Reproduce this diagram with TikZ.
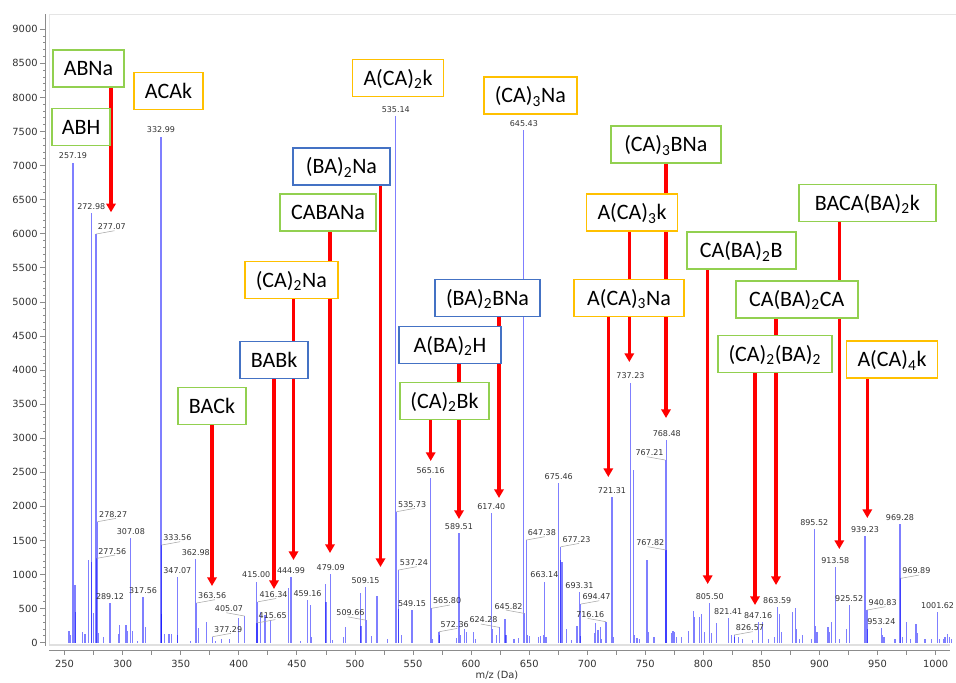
\documentclass[tikz,border=0pt]{standalone}
\usepackage{fontspec}
\newfontfamily\boxfont{Carlito}
\newfontfamily\numfont{DejaVu Sans}
\usetikzlibrary{arrows.meta, backgrounds}

\definecolor{boxgreen}{RGB}{146,208,80}
\definecolor{boxorange}{RGB}{255,192,0}
\definecolor{boxblue}{RGB}{68,114,196}
\definecolor{peakblue}{RGB}{0,0,255}
\definecolor{axisgray}{RGB}{140,140,140}

% pixel position of an m/z value and of a count
\newcommand{\xpx}[1]{64.6+(#1-250)*1.1614}
\newcommand{\ypx}[1]{642.7-#1*0.06816}

% peaks: plain, label on top, label right, label left
\newcounter{pk}
\newcommand{\pk}[2]{\draw[peak] (#1,0) -- (#1,#2);}
\newcommand{\pkc}[2]{\stepcounter{pk}\draw[peak] (#1,0) -- (#1,#2);
  \node[pklab, anchor=south] (pk\thepk) at ([yshift=2pt]#1,#2) {#1};}
\newcommand{\pkr}[2]{\stepcounter{pk}\draw[peak] (#1,0) -- (#1,#2);
  \node[pklab, anchor=south west] (pk\thepk) at ([shift={(0.6pt,2.5pt)}]#1,#2) {#1};
  \draw[leader] (#1,#2) -- ([xshift=2pt]pk\thepk.south);}
\newcommand{\pkl}[2]{\stepcounter{pk}\draw[peak] (#1,0) -- (#1,#2);
  \node[pklab, anchor=south east] (pk\thepk) at ([shift={(-0.6pt,2.5pt)}]#1,#2) {#1};
  \draw[leader] (#1,#2) -- ([xshift=-2pt]pk\thepk.south);}

\begin{document}
\begin{tikzpicture}[
    x=0.75pt, y=-0.75pt,
    box/.style={rectangle, draw, fill=white, line width=1.4pt, minimum width=#1*0.75pt, minimum height=27.75pt, inner sep=0pt, text height=10.6pt, text depth=0pt, font=\boxfont\fontsize{16.5}{18}\selectfont},
    gbox/.style={box=#1, draw=boxgreen},
    obox/.style={box=#1, draw=boxorange},
    bbox/.style={box=#1, draw=boxblue},
    peak/.style={draw=peakblue, draw opacity=0.5, line width=0.9pt},
    pklab/.style={inner sep=0.5pt, text=black!80, font=\numfont\fontsize{6}{7}\selectfont},
    leader/.style={draw=black!35, line width=0.4pt},
    axlab/.style={inner sep=0.5pt, text=black!80, font=\numfont\fontsize{7.4}{8}\selectfont},
    axisline/.style={draw=axisgray, line width=0.6pt},
    redarrow/.style={-{Triangle[width=7pt, length=6.5pt]}, line width=2.3pt, red}
]
\useasboundingbox (0,0) rectangle (956,682);
\begin{pgfonlayer}{background}
  \fill[white] (0,0) rectangle (956,682);
\end{pgfonlayer}

% =====================
% Frame and axes
% =====================
\draw[black!10, line width=0.6pt] (49,645) -- (49,14) -- (956,14);
\draw[black!12, line width=0.8pt] (49,645) -- (950,645);
\draw[axisline] (45,14) -- (45,646);
\draw[axisline] (49,650) -- (950,650);
\foreach \c in {100,200,...,9000}
  \draw[axisline] (43,{\ypx{\c}}) -- (45,{\ypx{\c}});
\foreach \c in {0,500,...,9000} {
  \draw[axisline] (40,{\ypx{\c}}) -- (45,{\ypx{\c}});
  \node[axlab, anchor=east] (y\c) at (38.5,{\ypx{\c}}) {\c};
}
\foreach \m in {250,275,...,1000}
  \draw[axisline] ({\xpx{\m}},650) -- ({\xpx{\m}},655);
\foreach \m in {250,300,...,1000}
  \node[axlab] (x\m) at ({\xpx{\m}},663.5) {\m};
\node[axlab] (xtitle) at (497,675.5) {m/z (Da)};

% =====================
% Spectrum (m/z, counts)
% =====================
\begin{scope}[shift={(-225.75,642.7)}, x=0.87105pt, y=0.05112pt]
\foreach \m/\h in {253.8/171, 255.2/112, 258.9/846, 259.1/455, 265.3/161, 267.6/127,
    270.7/1213, 273.4/1190, 275.0/430, 279.2/137, 283.3/78, 296.3/127, 297.5/254,
    302.9/264, 304.4/171, 308.2/176, 312.8/30, 319.4/235, 333.2/420, 336.2/122,
    339.9/127, 342/127, 347.4/120, 358.5/25, 365.3/210, 372/298, 380/20, 385.2/59,
    391.8/59, 399.6/362, 418.5/455, 422.5/406, 427.6/333, 443/797, 453.4/30,
    461.7/560, 462.5/80, 474.8/860, 475/600, 480.5/40, 490/90, 492/235, 505/724,
    505.2/240, 514/100, 519/685, 528/50, 537.5/500, 540/115, 566.5/60, 572.8/120,
    587.3/70, 591/110, 594.5/200, 596/160, 602/150, 603.5/60, 618.3/204, 622/110,
    629.2/352, 630/110, 637/60, 641/70, 648.5/110, 650/100, 658/90, 660/100,
    662/110, 664.5/90, 676.9/1213, 678.2/1180, 682.3/200, 686.5/40, 691.2/249,
    694/100, 706/140, 707.3/284, 709.3/180, 711.6/235, 712.5/60, 722.3/80,
    739.7/2534, 740.8/110, 742.8/70, 745/50, 751.5/1213, 752.6/160, 757.4/90,
    772.3/140, 773.8/176, 775.3/150, 776.7/90, 781/80, 787/176, 791.3/465,
    792.7/381, 797/381, 798.5/416, 801.3/160, 807/140, 811.5/284, 824/110,
    827/90, 830/80, 834/60, 842/40, 851.1/308, 855.9/60, 861.1/80, 865.4/420,
    867.4/160, 876.9/445, 879.5/513, 880.4/200, 882.7/50, 885.6/110, 893/50,
    896.4/240, 897.8/150, 907.3/235, 908.5/160, 910.5/308, 917.1/50, 923.3/196,
    941.6/200, 954.4/110, 955.6/80, 965/50, 971.4/90, 975.1/298, 978/60,
    983.1/269, 984.3/140, 990.8/50, 996.5/50, 1003.2/50, 1006.7/60, 1008.1/90,
    1010.1/130, 1011.8/90, 1013.5/50}
  {\pk{\m}{\h}}

\pkc{257.19}{7043}
\pkc{272.98}{6300}
\pkr{277.07}{5996}
\pkr{278.27}{1775}
\pkr{277.56}{1237}
\pkc{289.12}{577}
\pkc{307.08}{1530}
\pkc{317.56}{665}
\pkc{332.99}{7424}
\pkr{333.56}{1433}
\pkc{347.07}{968}
\pkc{362.98}{1222}
\pkr{363.56}{582}
\pkr{377.29}{88}
\pkl{405.07}{391}
\pkc{415.00}{895}
\pkr{416.34}{600}
\pkr{415.65}{290}
\pkc{444.99}{958}
\pkc{459.16}{620}
\pkc{479.09}{1002}
\pkc{509.15}{821}
\pkl{509.66}{330}
\pkc{535.14}{7727}
\pkr{535.73}{1922}
\pkr{537.24}{1066}
\pkc{549.15}{479}
\pkc{565.16}{2421}
\pkr{565.80}{504}
\pkr{572.36}{161}
\pkc{589.51}{1604}
\pkc{617.40}{1897}
\pkl{624.28}{225}
\pkc{645.43}{7522}
\pkl{645.82}{430}
\pkr{647.38}{1506}
\pkc{663.14}{895}
\pkc{675.46}{2347}
\pkr{677.23}{1408}
\pkc{693.31}{738}
\pkr{694.47}{567}
\pkl{716.16}{308}
\pkc{721.31}{2142}
\pkc{737.23}{3815}
\pkl{767.21}{2680}
\pkc{768.48}{2974}
\pkl{767.82}{1360}
\pkc{805.50}{577}
\pkc{821.41}{357}
\pkr{826.57}{113}
\pkc{847.16}{308}
\pkc{863.59}{528}
\pkc{895.52}{1663}
\pkc{913.58}{1105}
\pkc{925.52}{553}
\pkc{939.23}{1565}
\pkr{940.83}{479}
\pkc{953.24}{210}
\pkc{969.28}{1741}
\pkr{969.89}{944}
\pkc{1001.62}{450}
\end{scope}

% =====================
% Assignments
% =====================
\node[gbox=71] (abna) at (88.5,68.5) {ABNa};
\node[gbox=58] (abh) at (81,127) {ABH};
\node[obox=69] (acak) at (168.5,91) {ACAk};
\node[obox=91] (aca2k) at (398,78) {A(CA)\textsubscript{2}k};
\node[obox=93] (ca3na) at (530.3,95.5) {(CA)\textsubscript{3}Na};
\node[bbox=97] (ba2na) at (341.5,166.5) {(BA)\textsubscript{2}Na};
\node[gbox=96] (cabana) at (328,212.5) {CABANa};
\node[obox=93] (ca2na) at (291.3,280) {(CA)\textsubscript{2}Na};
\node[bbox=68] (babk) at (274,360) {BABk};
\node[gbox=68] (back) at (212,406) {BACk};
\node[bbox=105] (ba2bna) at (487.5,298) {(BA)\textsubscript{2}BNa};
\node[bbox=102] (aba2h) at (450,345) {A(BA)\textsubscript{2}H};
\node[gbox=89] (ca2bk) at (444.5,401) {(CA)\textsubscript{2}Bk};
\node[gbox=110] (ca3bna) at (665.8,144.5) {(CA)\textsubscript{3}BNa};
\node[obox=91] (aca3k) at (632,212.5) {A(CA)\textsubscript{3}k};
\node[obox=110] (aca3na) at (629,298) {A(CA)\textsubscript{3}Na};
\node[gbox=109] (caba2b) at (741.2,250.5) {CA(BA)\textsubscript{2}B};
\node[gbox=137] (bacaba2k) at (867.3,203) {BACA(BA)\textsubscript{2}k};
\node[gbox=122] (caba2ca) at (796.7,299.2) {CA(BA)\textsubscript{2}CA};
\node[gbox=114] (ca2ba2) at (774.8,354) {(CA)\textsubscript{2}(BA)\textsubscript{2}};
\node[obox=91] (aca4k) at (892,359.5) {A(CA)\textsubscript{4}k};

% arrow tips
\coordinate (t-abna) at (111,212.3);
\coordinate (t-ba2na) at (380.5,567);
\coordinate (t-cabana) at (330,553);
\coordinate (t-ca2na) at (293.5,560);
\coordinate (t-babk) at (274,589);
\coordinate (t-back) at (212,586);
\coordinate (t-ba2bna) at (499,498);
\coordinate (t-aba2h) at (459,519);
\coordinate (t-ca2bk) at (430.7,461);
\coordinate (t-ca3bna) at (666,418);
\coordinate (t-aca3k) at (629.3,362);
\coordinate (t-aca3na) at (608.3,477);
\coordinate (t-caba2b) at (707.7,584);
\coordinate (t-bacaba2k) at (839.3,549);
\coordinate (t-caba2ca) at (776,585);
\coordinate (t-ca2ba2) at (755,605);
\coordinate (t-aca4k) at (867.3,518);

% =====================
% Arrows (behind the boxes)
% =====================
\begin{pgfonlayer}{background}
\draw[redarrow] (abna.south -| t-abna) -- (t-abna);
\draw[redarrow] (ba2na.south -| t-ba2na) -- (t-ba2na);
\draw[redarrow] (cabana.south -| t-cabana) -- (t-cabana);
\draw[redarrow] (ca2na.south -| t-ca2na) -- (t-ca2na);
\draw[redarrow] (babk.south -| t-babk) -- (t-babk);
\draw[redarrow] (back.south -| t-back) -- (t-back);
\draw[redarrow] (ba2bna.south -| t-ba2bna) -- (t-ba2bna);
\draw[redarrow] (aba2h.south -| t-aba2h) -- (t-aba2h);
\draw[redarrow] (ca2bk.south -| t-ca2bk) -- (t-ca2bk);
\draw[redarrow] (ca3bna.south -| t-ca3bna) -- (t-ca3bna);
\draw[redarrow] (aca3k.south -| t-aca3k) -- (t-aca3k);
\draw[redarrow] (aca3na.south -| t-aca3na) -- (t-aca3na);
\draw[redarrow] (caba2b.south -| t-caba2b) -- (t-caba2b);
\draw[redarrow] (bacaba2k.south -| t-bacaba2k) -- (t-bacaba2k);
\draw[redarrow] (caba2ca.south -| t-caba2ca) -- (t-caba2ca);
\draw[redarrow] (ca2ba2.south -| t-ca2ba2) -- (t-ca2ba2);
\draw[redarrow] (aca4k.south -| t-aca4k) -- (t-aca4k);
\end{pgfonlayer}

\end{tikzpicture}
\end{document}
